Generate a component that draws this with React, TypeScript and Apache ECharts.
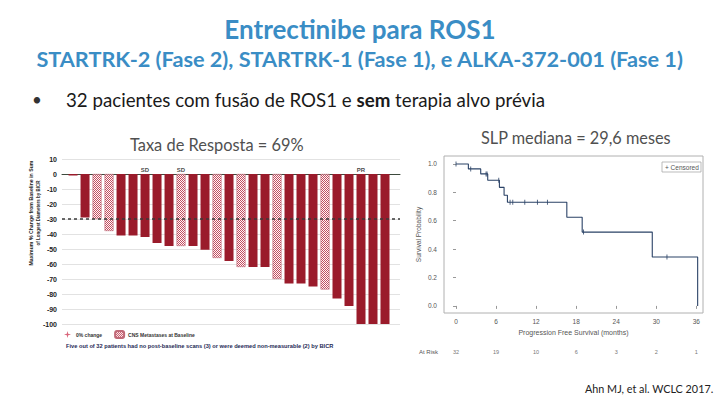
import React, { useEffect, useRef } from 'react';
import * as echarts from 'echarts';

// ---- Waterfall data (best % change from baseline, 27 evaluable patients) ----
const bestChange = [-1, -29, -30, -38, -41, -41, -42, -46, -48, -48, -48, -50.5, -56, -58, -62, -62, -62, -70, -73, -73, -75, -77, -83, -88, -100, -100, -100];
const cnsMets = [0, 0, 1, 1, 0, 0, 0, 0, 0, 1, 0, 0, 1, 0, 1, 0, 0, 1, 0, 0, 0, 1, 0, 0, 0, 0, 0];
const responseLabelBars = [6, 9, 24];
const responseLabelTexts = ['SD', 'SD', 'PR'];
const thresholdLine = -30;

// ---- Kaplan-Meier data ----
const kmTimes = [0, 1.85, 3.7, 4.75, 6.5, 7.2, 7.7, 16.6, 18.9, 29.4, 36.2];
const kmSurv = [1, 0.965, 0.93, 0.885, 0.835, 0.78, 0.73, 0.625, 0.52, 0.345, 0];
const censorTimes = [0, 2.2, 4.5, 4.65, 6.4, 8.1, 8.5, 10.3, 12.2, 13.7, 19.1, 31.6];
const kmXTicks = [0, 6, 12, 18, 24, 30, 36];
const kmYTicks = [0, 0.2, 0.4, 0.6, 0.8, 1.0];
const atRiskTimes = [0, 6, 12, 18, 24, 30, 36];
const atRiskCounts = [32, 19, 10, 6, 3, 2, 1];

const DARK_RED = '#9a1b2b';
const NAVY = '#2a4266';
const FONT = 'Lato, "Open Sans", sans-serif';
const SMALL_FONT = '"Liberation Sans", Arial, sans-serif';

function survAt(t: number): number {
  let s = 1;
  for (let i = 0; i < kmTimes.length; i++) {
    if (kmTimes[i] <= t) s = kmSurv[i];
  }
  return s;
}

function makePattern() {
  const c = document.createElement('canvas');
  c.width = 4;
  c.height = 4;
  const ctx = c.getContext('2d')!;
  ctx.fillStyle = '#fff8f9';
  ctx.fillRect(0, 0, 4, 4);
  ctx.fillStyle = '#c24f61';
  for (let y = 0; y < 4; y++) {
    for (let x = 0; x < 4; x++) {
      if ((x + y) % 2 === 0) ctx.fillRect(x, y, 1, 1);
    }
  }
  return { image: c, repeat: 'repeat', imageWidth: 4, imageHeight: 4 } as any;
}

export default function App() {
  const ref = useRef<HTMLDivElement>(null);

  useEffect(() => {
    if (!ref.current) return;
    const chart = echarts.init(ref.current, undefined, { renderer: 'svg' });
    const pattern = makePattern();

    const solidData = bestChange.map((v, i) => (cnsMets[i] ? null : [i, v])).filter(Boolean);
    const hatchData = bestChange.map((v, i) => (cnsMets[i] ? [i, v] : null)).filter(Boolean);
    const labelData = responseLabelBars.map((b, k) => ({ value: [b, 0], label: { formatter: responseLabelTexts[k] } }));

    const kmData = kmTimes.map((t, i) => [t, kmSurv[i]]);
    const censorData = censorTimes.map((t) => [t, survAt(t)]);

    const option: any = {
      animation: false,
      backgroundColor: '#ffffff',
      grid: [
        { left: 62, top: 159, width: 338, height: 165, show: false },
        { left: 444, top: 156, width: 259, height: 157, show: true, borderColor: '#b0b0b0', borderWidth: 1 },
      ],
      legend: [
        {
          data: ['0% change', 'CNS Metastases at Baseline'],
          left: 64,
          top: 330,
          padding: 0,
          itemWidth: 9,
          itemHeight: 7,
          itemGap: 12,
          textStyle: { fontSize: 5, fontWeight: 'bold', color: '#333', fontFamily: SMALL_FONT, padding: [0, 0, 0, -1] },
        },
      ],
      xAxis: [
        {
          type: 'value',
          gridIndex: 0,
          min: -0.92,
          max: 27.25,
          axisLine: { show: true, onZero: true, lineStyle: { color: '#3d4a3d', width: 1 } },
          axisTick: { show: false },
          axisLabel: { show: false },
          splitLine: { show: false },
        },
        {
          type: 'value',
          gridIndex: 1,
          min: -1.8,
          max: 37,
          axisLine: { show: false },
          axisTick: { show: true, length: 3, lineStyle: { color: '#999' }, customValues: kmXTicks },
          axisLabel: { fontSize: 6.5, color: '#555', margin: 5, fontFamily: SMALL_FONT, customValues: kmXTicks },
          splitLine: { show: false },
          name: 'Progression Free Survival (months)',
          nameLocation: 'middle',
          nameGap: 16,
          nameTextStyle: { fontSize: 7, color: '#555', fontFamily: SMALL_FONT },
        },
        {
          type: 'value',
          gridIndex: 1,
          position: 'bottom',
          offset: 34,
          min: -1.8,
          max: 37,
          axisLine: { show: false },
          axisTick: { show: false },
          splitLine: { show: false },
          axisLabel: {
            fontSize: 5.5,
            color: '#777',
            margin: 2,
            fontFamily: SMALL_FONT,
            customValues: atRiskTimes,
            formatter: (v: number) => {
              const idx = atRiskTimes.indexOf(v);
              return idx >= 0 ? String(atRiskCounts[idx]) : '';
            },
          },
        },
      ],
      yAxis: [
        {
          type: 'value',
          gridIndex: 0,
          min: -100,
          max: 10,
          interval: 10,
          axisLine: { show: false },
          axisTick: { show: false },
          axisLabel: { fontSize: 7, fontWeight: 'bold', color: '#222', margin: 5, fontFamily: SMALL_FONT },
          splitLine: { show: true, lineStyle: { color: '#e2e2e2', width: 1 } },
        },
        {
          type: 'value',
          gridIndex: 1,
          min: -0.05,
          max: 1.056,
          axisLine: { show: false },
          axisTick: { show: true, length: 3, lineStyle: { color: '#999' }, customValues: kmYTicks },
          axisLabel: {
            fontSize: 6.5,
            color: '#555',
            margin: 7,
            fontFamily: SMALL_FONT,
            customValues: kmYTicks,
            formatter: (v: number) => v.toFixed(1),
          },
          splitLine: { show: false },
          name: 'Survival Probability',
          nameLocation: 'middle',
          nameGap: 22,
          nameTextStyle: { fontSize: 6.5, color: '#555', fontFamily: SMALL_FONT },
        },
      ],
      series: [
        {
          name: 'Response',
          type: 'bar',
          xAxisIndex: 0,
          yAxisIndex: 0,
          barWidth: 9,
          barGap: '-100%',
          itemStyle: { color: DARK_RED },
          data: solidData,
          markLine: {
            silent: true,
            symbol: 'none',
            label: { show: false },
            lineStyle: { type: [3, 3], color: '#3a3a3a', width: 1.5 },
            data: [{ yAxis: thresholdLine }],
          },
        },
        {
          name: 'CNS Metastases at Baseline',
          type: 'bar',
          xAxisIndex: 0,
          yAxisIndex: 0,
          barWidth: 9,
          barGap: '-100%',
          itemStyle: { color: pattern, borderColor: '#c06a78', borderWidth: 0.6 },
          data: hatchData,
        },
        {
          name: '0% change',
          type: 'scatter',
          xAxisIndex: 0,
          yAxisIndex: 0,
          symbol: 'path://M5,0 L6,4 L10,5 L6,6 L5,10 L4,6 L0,5 L4,4 Z',
          itemStyle: { color: '#d0405a' },
          data: [],
        },
        {
          name: 'labels',
          type: 'scatter',
          xAxisIndex: 0,
          yAxisIndex: 0,
          symbolSize: 0,
          silent: true,
          label: {
            show: true,
            position: 'top',
            distance: 1,
            fontSize: 6,
            fontWeight: 'bold',
            color: '#111',
            fontFamily: SMALL_FONT,
          },
          data: labelData,
        },
        {
          name: 'KM',
          type: 'line',
          xAxisIndex: 1,
          yAxisIndex: 1,
          step: 'end',
          showSymbol: false,
          lineStyle: { color: NAVY, width: 1.1 },
          data: kmData,
        },
        {
          name: 'Censored',
          type: 'scatter',
          xAxisIndex: 1,
          yAxisIndex: 1,
          symbol: 'rect',
          symbolSize: [1, 5],
          itemStyle: { color: NAVY },
          data: censorData,
        },
      ],
      graphic: [
        {
          type: 'text',
          left: 'center',
          top: 16,
          style: { text: 'Entrectinibe para ROS1', fontSize: 26, fontWeight: 'bold', fill: '#3a8dc5', fontFamily: FONT },
        },
        {
          type: 'text',
          left: 'center',
          top: 48,
          style: {
            text: 'STARTRK-2 (Fase 2), STARTRK-1 (Fase 1), e ALKA-372-001 (Fase 1)',
            fontSize: 21.7,
            fontWeight: 'bold',
            fill: '#3a8dc5',
            fontFamily: FONT,
          },
        },
        {
          type: 'text',
          x: 32,
          y: 91,
          style: { text: '•', fontSize: 17, fill: '#333', fontFamily: FONT },
        },
        {
          type: 'text',
          x: 66,
          y: 90,
          style: {
            text: '{n|32 pacientes com fusão de ROS1 e }{b|sem}{n| terapia alvo prévia}',
            rich: {
              n: { fontSize: 18.7, fill: '#1a1a1a', fontFamily: FONT },
              b: { fontSize: 18.7, fontWeight: 'bold', fill: '#1a1a1a', fontFamily: FONT },
            },
          },
        },
        {
          type: 'text',
          x: 130,
          y: 136,
          style: { text: 'Taxa de Resposta = 69%', fontSize: 16.4, fill: '#505050', fontFamily: FONT },
        },
        {
          type: 'text',
          x: 481,
          y: 129,
          style: { text: 'SLP mediana = 29,6 meses', fontSize: 16.3, fill: '#505050', fontFamily: FONT },
        },
        {
          type: 'text',
          x: 585,
          y: 383,
          style: { text: 'Ahn MJ, et al. WCLC 2017.', fontSize: 10.8, fill: '#222', fontFamily: FONT },
        },
        {
          type: 'text',
          x: 34,
          y: 213,
          rotation: Math.PI / 2,
          style: {
            text: '{a|Maximum % Change from Baseline in Sum}\n{b|of Longest Diameters by BICR}',
            align: 'center',
            verticalAlign: 'middle',
            rich: {
              a: { fontSize: 5.2, fontWeight: 'bold', fill: '#1a1a1a', fontFamily: SMALL_FONT, align: 'center', lineHeight: 8 },
              b: { fontSize: 4.5, fontWeight: 'bold', fill: '#2a2a2a', fontFamily: SMALL_FONT, align: 'center', lineHeight: 7 },
            },
          },
        },
        {
          type: 'text',
          x: 66,
          y: 343,
          style: {
            text: 'Five out of 32 patients had no post-baseline scans (3) or were deemed non-measurable (2) by BICR',
            fontSize: 5.7,
            fontWeight: 'bold',
            fill: '#1f2a55',
            fontFamily: SMALL_FONT,
          },
        },
        {
          type: 'text',
          x: 419,
          y: 349,
          style: { text: 'At Risk', fontSize: 6, fill: '#555', fontFamily: SMALL_FONT },
        },
        {
          type: 'group',
          x: 662,
          y: 162,
          children: [
            { type: 'rect', shape: { x: 0, y: 0, width: 39, height: 10 }, style: { fill: '#fff', stroke: '#aaa', lineWidth: 0.8 } },
            { type: 'text', x: 3, y: 2, style: { text: '+ Censored', fontSize: 6.5, fill: '#555', fontFamily: SMALL_FONT } },
          ],
        },
      ],
    };

    chart.setOption(option);
    return () => chart.dispose();
  }, []);

  return <div ref={ref} style={{ position: 'fixed', left: 0, top: 0, width: 720, height: 405 }} />;
}
